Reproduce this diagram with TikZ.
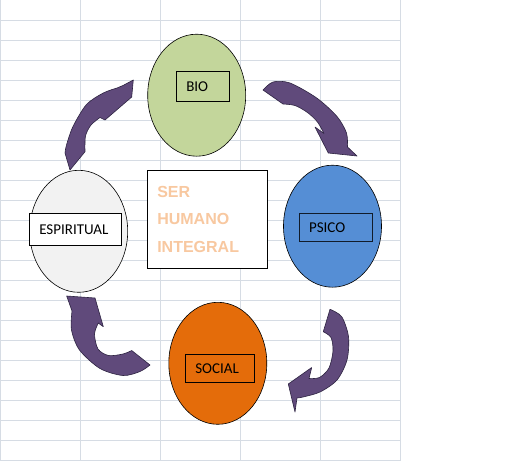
\documentclass[tikz,border=0pt]{standalone}
\usepackage{fontspec}
\setmainfont{Carlito}
\newfontfamily\corefont{Liberation Sans}
\usetikzlibrary{shapes.geometric,positioning}
\definecolor{sage}{RGB}{195,214,155}
\definecolor{sky}{RGB}{85,142,213}
\definecolor{ember}{RGB}{228,108,10}
\definecolor{mist}{RGB}{242,242,242}
\definecolor{plum}{RGB}{96,74,123}
\definecolor{plumedge}{RGB}{45,35,65}
\definecolor{peach}{RGB}{248,200,160}
\definecolor{gridgray}{RGB}{214,220,228}

\tikzset{
  lobe/.style={ellipse,draw=black,line width=0.6pt,minimum width=98pt,minimum height=122pt,inner sep=0pt},
  tag/.style={rectangle,draw=black,line width=0.6pt,inner xsep=10pt,inner ysep=0pt,align=left,
    font=\fontsize{15}{18}\selectfont},
  swirl/.style={fill=plum,draw=plumedge,line width=0.6pt,line join=round},
  gridline/.style={gridgray,line width=0.8pt}
}

\begin{document}
\begin{tikzpicture}[x=1pt,y=-1pt]
    \useasboundingbox (0,0) rectangle (512,461);
    \fill[white] (0,0) rectangle (512,461);
    % sheet grid
    \foreach \y in {20,40,...,460}{ \draw[gridline] (0,\y) -- (400.7,\y); }
    \foreach \x in {0.5,80.7,160.7,240.7,320.7,400.7}{ \draw[gridline] (\x,0) -- (\x,461); }
    % four parts
    \node[lobe,fill=sage] (bio) at (196.7,95.2) {};
    \node[lobe,fill=sky] (psico) at (332.5,226.2) {};
    \node[lobe,fill=ember] (social) at (217.8,363.3) {};
    \node[lobe,fill=mist] (espiritual) at (78.7,231.3) {};
    \node[tag,fill=sage,text width=33.4pt,minimum height=30pt] (biotag) at (203,86.3) {BIO};
    \node[tag,fill=sky,draw=black!80!sky,text width=53.3pt,minimum height=28pt] (psicotag) at (335.7,227.3) {PSICO};
    \node[tag,fill=ember,text width=49pt,minimum height=28pt] (socialtag) at (219.8,368.3) {SOCIAL};
    \node[tag,fill=white,text width=72pt,minimum height=32pt] (espiritualtag) at (75.3,229.3) {ESPIRITUAL};
    % centre
    \node[draw=black,line width=0.6pt,fill=white,minimum width=120.4pt,minimum height=98pt,text width=100.4pt,
      inner xsep=10pt,align=left,text=peach,font=\corefont\bfseries\fontsize{16}{27.8}\selectfont] (core) at (207.5,219.3)
      {SER\\HUMANO\\INTEGRAL};
    % curved arrows
    \draw[swirl] plot[smooth] coordinates {(263,90) (273,82) (290,83) (316.7,98) (337,116.5) (346.5,133) (347.5,147)}
      -- (357,156) -- (328.3,153) -- (315,127)
      -- plot[smooth] coordinates {(324,133.5) (317.5,122) (307.5,112.5) (295,105.5) (283,104)} -- cycle;
    \draw[swirl] plot[smooth] coordinates {(330,309.3) (341.7,316.7) (348.5,336.7) (347,360) (337,380) (320,392) (303,397) (297,398)}
      -- (295,412) -- (288.3,384) -- (311.7,367.5)
      -- plot[smooth] coordinates {(309,378.5) (319.5,377.5) (329,368) (333,351) (331,337.5) (323.3,331.7)} -- cycle;
    \draw[swirl] plot[smooth] coordinates {(150,365) (140,371.5) (123,375.5) (100,368.5) (79.5,350) (71.5,330) (72,311)}
      -- (66.7,296) -- (95,298) -- (103.3,326.7)
      -- plot[smooth] coordinates {(98.3,323) (94.5,334) (98,349) (108.5,355.5) (123,354) (131.7,350.5)} -- cycle;
    \draw[swirl] (70,170) -- plot[smooth] coordinates {(65,153) (66.5,145) (73,126.5) (86.5,104.5) (103.3,93) (117,88)}
      -- (123,85.5) -- (133.3,80) -- (131.7,97) -- (105,120)
      -- plot[smooth] coordinates {(100,117.5) (91,125) (85.5,136) (85,151.7)} -- cycle;
  \end{tikzpicture}
\end{document}
